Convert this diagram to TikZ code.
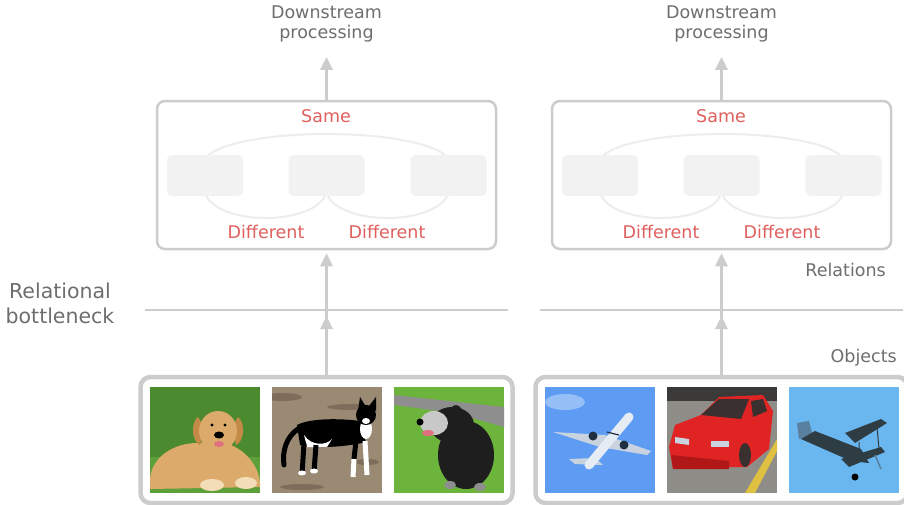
\documentclass[tikz,border=0pt]{standalone}
\usepackage{fontspec}
\setmainfont{DejaVu Sans}
\usetikzlibrary{arrows.meta}
\definecolor{lgray}{HTML}{CCCCCC}
\definecolor{tgray}{HTML}{6E6E6E}
\definecolor{sred}{HTML}{E0605E}
\definecolor{ibox}{HTML}{F2F2F2}
\definecolor{arcg}{HTML}{EDEDED}
% photo colours
\definecolor{grassA}{HTML}{4C8A30}
\definecolor{grassA2}{HTML}{5DA03A}
\definecolor{goldA}{HTML}{DCAA6A}
\definecolor{goldB}{HTML}{C38A48}
\definecolor{paw}{HTML}{F2DDB8}
\definecolor{ground}{HTML}{9A8A74}
\definecolor{groundB}{HTML}{7D6D5A}
\definecolor{grassB}{HTML}{6CB43C}
\definecolor{pathg}{HTML}{8E8E8E}
\definecolor{furB}{HTML}{1E1E1E}
\definecolor{faceB}{HTML}{C8C8C8}
\definecolor{tongue}{HTML}{E07080}
\definecolor{skyA}{HTML}{5E9CF4}
\definecolor{planeW}{HTML}{E6ECF4}
\definecolor{planeS}{HTML}{C9D3E0}
\definecolor{engine}{HTML}{203040}
\definecolor{asph}{HTML}{8E8D88}
\definecolor{darkstrip}{HTML}{3C3A38}
\definecolor{yline}{HTML}{E0C040}
\definecolor{carred}{HTML}{E02424}
\definecolor{carred2}{HTML}{B01818}
\definecolor{glass}{HTML}{3A3030}
\definecolor{skyB}{HTML}{6AB6EF}
\definecolor{biplane}{HTML}{2E3D44}
\definecolor{biplane2}{HTML}{5A80A0}
\tikzset{
  relbox/.style={draw=lgray, line width=2.5pt, rounded corners=8pt, minimum width=339pt, minimum height=148pt, inner sep=0pt},
  itembox/.style={fill=ibox, rounded corners=5pt, minimum width=76pt, minimum height=41pt, inner sep=0pt},
  objbox/.style={draw=lgray, line width=4.5pt, rounded corners=10pt, minimum width=372pt, minimum height=126pt, inner sep=0pt},
  upar/.style={draw=lgray, line width=3pt, -{Triangle[width=12pt,length=13pt]}},
  relarc/.style={draw=arcg, line width=2pt},
  lbl/.style={text=tgray, font=\fontsize{17.5}{20}\selectfont, inner sep=0pt},
  rlbl/.style={text=sred, font=\fontsize{17.5}{20}\selectfont, inner sep=0pt},
  neck/.style={draw=lgray, line width=2.5pt},
}
\newcommand\myphoto[2]{%
  \begin{scope}[shift={(#1,387)}]
    \clip (0,0) rectangle (110,106);
    #2
  \end{scope}}
\newcommand\imgdogA{%
  \fill[grassA] (0,0) rectangle (110,106);
  \fill[grassA2] (0,70) rectangle (110,106);
  \fill[goldA] (0,98) .. controls (-2,70) and (25,55) .. (50,56) .. controls (80,48) and (108,70) .. (110,96) -- (110,100) -- (0,102) -- cycle;
  \fill[goldB] (48,30) .. controls (40,36) and (42,55) .. (50,58) -- (54,40) -- cycle;
  \fill[goldB] (88,30) .. controls (96,36) and (94,55) .. (86,58) -- (82,40) -- cycle;
  \fill[goldA] (68,44) ellipse [x radius=19, y radius=20];
  \fill[black] (62,38) circle (1.6) (75,38) circle (1.6);
  \fill[black] (69,48) ellipse [x radius=5, y radius=3.5];
  \fill[tongue] (69,57) ellipse [x radius=5, y radius=3];
  \fill[paw] (62,98) ellipse [x radius=12, y radius=6];
  \fill[paw] (96,96) ellipse [x radius=11, y radius=6];
}
\newcommand\imgcat{%
  \fill[ground] (0,0) rectangle (110,106);
  \fill[groundB] (10,10) ellipse [x radius=20, y radius=4];
  \fill[groundB] (80,20) ellipse [x radius=25, y radius=3];
  \fill[groundB] (30,100) ellipse [x radius=22, y radius=3];
  \fill[groundB] (95,75) ellipse [x radius=12, y radius=3];
  \draw[black, line width=5pt, line cap=round] (26,42) .. controls (14,50) and (10,65) .. (12,78);
  \fill[black] (25,38) .. controls (40,30) and (75,32) .. (88,34) -- (94,55) .. controls (75,60) and (40,62) .. (28,58) -- cycle;
  \fill[white] (32,48) .. controls (40,60) and (55,58) .. (60,52) -- (55,60) -- (35,60) -- cycle;
  \draw[black, line width=5pt] (32,56) -- (30,88);
  \draw[black, line width=5pt] (44,58) -- (42,85);
  \draw[black, line width=5pt] (84,54) -- (82,72);
  \draw[white, line width=5pt] (82,72) -- (81,90);
  \draw[white, line width=5pt] (93,54) -- (95,88);
  \fill[white] (30,86) ellipse [x radius=4, y radius=2.5] (42,84) ellipse [x radius=4, y radius=2.5];
  \fill[white] (94,42) ellipse [x radius=6, y radius=10];
  \fill[black] (94,28) circle (10);
  \fill[black] (86,24) -- (88,10) -- (94,20) -- cycle;
  \fill[black] (97,19) -- (104,10) -- (104,24) -- cycle;
  \fill[white] (94,34) ellipse [x radius=4, y radius=3];
}
\newcommand\imgdogB{%
  \fill[grassB] (0,0) rectangle (110,106);
  \fill[pathg] (0,8) -- (110,20) -- (110,40) -- (60,26) -- (0,18) -- cycle;
  \fill[furB] (72,68) ellipse [x radius=28, y radius=34];
  \fill[furB] (58,38) ellipse [x radius=22, y radius=18];
  \fill[faceB] (40,36) ellipse [x radius=14, y radius=12];
  \fill[furB] (62,32) ellipse [x radius=8, y radius=14];
  \fill[black] (26,35) circle (3.5);
  \fill[tongue] (34,46) ellipse [x radius=6, y radius=3];
  \fill[pathg] (56,98) ellipse [x radius=6, y radius=4] (86,100) ellipse [x radius=6, y radius=4];
}
\newcommand\imgplaneA{%
  \fill[skyA] (0,0) rectangle (110,106);
  \fill[white, opacity=0.35] (20,15) ellipse [x radius=20, y radius=8];
  \fill[planeS] (8,45) -- (60,48) -- (106,64) -- (102,68) -- (55,60) -- cycle;
  \fill[planeS] (24,72) -- (50,71) -- (58,78) -- (30,77) -- cycle;
  \draw[planeW, line width=9pt, line cap=round] (44,78) -- (84,30);
  \fill[engine] (48,49) circle (4.5) (79,58) circle (4.5);
  \draw[engine, line width=1.2pt] (62,45) -- (74,48);
}
\newcommand\imgcar{%
  \fill[asph] (0,0) rectangle (110,106);
  \fill[darkstrip] (0,0) rectangle (110,14);
  \fill[yline] (78,106) -- (110,52) -- (110,64) -- (88,106) -- cycle;
  \fill[carred] (2,60) -- (8,38) -- (34,28) -- (52,10) -- (96,8) -- (106,24) -- (102,62) -- (80,80) -- (44,80) -- (6,82) -- cycle;
  \fill[glass] (34,28) -- (52,12) -- (82,12) -- (74,32) -- cycle;
  \fill[glass] (84,14) -- (96,12) -- (100,24) -- (86,30) -- cycle;
  \fill[carred2] (4,68) -- (62,74) -- (62,82) -- (6,82) -- cycle;
  \fill[planeS] (8,50) -- (22,52) -- (22,58) -- (8,56) -- cycle;
  \fill[planeS] (44,54) -- (62,54) -- (62,60) -- (44,60) -- cycle;
  \fill[glass] (78,68) ellipse [x radius=6, y radius=12];
}
\newcommand\imgplaneB{%
  \fill[skyB] (0,0) rectangle (110,106);
  \fill[biplane2] (8,36) -- (20,34) -- (24,50) -- (10,52) -- cycle;
  \fill[biplane] (12,52) -- (26,44) -- (72,62) -- (80,76) -- (62,74) -- cycle;
  \fill[biplane] (56,46) -- (92,32) -- (98,36) -- (66,56) -- cycle;
  \fill[biplane] (52,72) -- (92,60) -- (96,65) -- (60,80) -- cycle;
  \draw[biplane, line width=1pt] (70,55) -- (70,72) (88,40) -- (90,62);
  \draw[biplane2, line width=1.5pt] (86,68) -- (92,82);
  \fill[black] (66,90) circle (3.5);
}
\newcommand\drawpanel[6]{%
  \begin{scope}[xshift=#2pt]
    \coordinate (#1ca) at (205,175.5);
    \coordinate (#1cb) at (326.5,175.5);
    \coordinate (#1cc) at (448.5,175.5);
    \draw[relarc] ([yshift=13.5pt]#1ca) arc[start angle=180, end angle=360, x radius=121.75, y radius=28];
    \draw[relarc] ([yshift=-14.5pt]#1ca) arc[start angle=180, end angle=0, x radius=60.75, y radius=28];
    \draw[relarc] ([yshift=-14.5pt]#1cb) arc[start angle=180, end angle=0, x radius=61, y radius=28];
    \node[relbox] (#1rel) at (326.5,175) {};
    \node[itembox] (#1a) at (#1ca) {};
    \node[itembox] (#1b) at (#1cb) {};
    \node[itembox] (#1c) at (#1cc) {};
    \node[rlbl, anchor=base] (#1same) at (326,122) {Same};
    \node[rlbl, anchor=base] (#1diffa) at (266,238) {Different};
    \node[rlbl, anchor=base] (#1diffb) at (387,238) {Different};
    \node[lbl, align=center, anchor=north] (#1down) at (326.5,6) {Downstream\\processing};
    \draw[upar] (#1rel.north) -- ([yshift=-14pt]#1down.south);
    \draw[neck] (145,310) coordinate (#1nl) -- (508,310) coordinate (#1nr);
    \coordinate (#1nk) at (326.5,310);
    \node[objbox] (#1obj) at (326.5,440) {};
    \draw[upar] ([yshift=-8pt]#1nk) -- ([yshift=-3pt]#1rel.south);
    \draw[upar] (#1obj.north) -- ([yshift=-6pt]#1nk);
    \myphoto{150}{#4}
    \myphoto{272}{#5}
    \myphoto{394}{#6}
  \end{scope}}
\begin{document}
\begin{tikzpicture}[x=1pt, y=-1pt]
  \useasboundingbox (0,0) rectangle (904,504);
  \fill[white] (0,0) rectangle (904,504);
  \drawpanel{L}{0}{}{\imgdogA}{\imgcat}{\imgdogB}
  \drawpanel{R}{395}{}{\imgplaneA}{\imgcar}{\imgplaneB}
  \node[lbl, font=\fontsize{20.5}{25}\selectfont, align=center, anchor=north] (bneck) at (60,282.5) {Relational\\bottleneck};
  \node[lbl, anchor=base east] (rellbl) at (886,276) {Relations};
  \node[lbl, anchor=base east] (objlbl) at (897,362) {Objects};
\end{tikzpicture}
\end{document}
